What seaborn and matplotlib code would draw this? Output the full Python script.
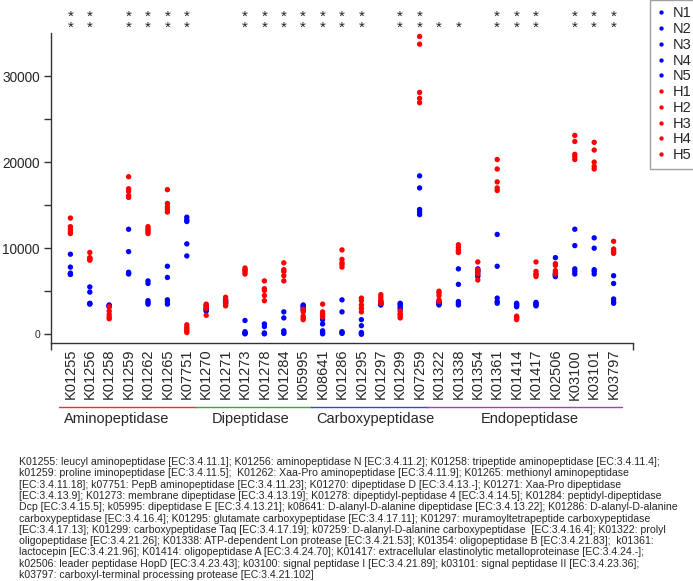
import matplotlib
matplotlib.use("Agg")
import matplotlib.pyplot as plt
import matplotlib.transforms as mtransforms
import pandas as pd
import seaborn as sns

# KEGG orthologs on the x axis
kegg = ["K01255", "K01256", "K01258", "K01259", "K01262", "K01265", "K07751",
        "K01270", "K01271", "K01273", "K01278", "K01284", "K05995",
        "K08641", "K01286", "K01295", "K01297", "K01299", "K07259",
        "K01322", "K01338", "K01354", "K01361", "K01414", "K01417", "K02506",
        "K03100", "K03101", "K03797"]

# five N samples per KO
n_vals = [
    [9300, 7800, 7100, 7000, 6950], [5500, 4900, 3600, 3550, 3500],
    [3400, 3350, 3300, 3250, 3200], [12200, 9600, 7200, 7100, 7000],
    [6200, 5900, 3900, 3700, 3500], [7900, 6600, 4000, 3800, 3500],
    [13600, 13300, 13100, 10500, 9100],
    [3200, 3000, 2900, 2800, 2700], [4000, 3900, 3800, 3700, 3600],
    [1600, 300, 150, 100, 50], [1200, 900, 150, 100, 50],
    [2600, 1900, 400, 200, 100], [3400, 3300, 3200, 3000, 2800],
    [1700, 1200, 400, 200, 50], [4000, 2600, 300, 200, 100],
    [1700, 1000, 200, 100, 0], [3800, 3700, 3600, 3500, 3400],
    [3600, 3500, 3300, 3100, 2900], [18400, 17000, 14500, 14200, 13900],
    [3800, 3700, 3600, 3500, 3400], [7600, 5800, 3800, 3600, 3400],
    [7600, 7400, 7200, 6900, 6700], [11600, 7900, 4200, 3800, 3600],
    [3600, 3500, 3400, 3300, 3200], [3700, 3600, 3500, 3400, 3300],
    [8900, 7000, 6900, 6800, 6700], [12200, 10300, 7600, 7300, 7000],
    [11200, 10000, 7500, 7300, 7000], [6800, 5900, 4100, 3800, 3600],
]

# five H samples per KO
h_vals = [
    [13500, 12500, 12200, 11900, 11700], [9500, 8900, 8800, 8700, 8600],
    [3200, 2700, 2300, 2000, 1800], [18300, 16900, 16600, 16100, 15900],
    [12500, 12300, 12100, 11900, 11700], [16800, 15200, 14800, 14500, 14200],
    [1100, 800, 600, 400, 200],
    [3500, 3400, 3300, 3000, 2200], [4300, 4000, 3600, 3400, 3300],
    [7700, 7500, 7400, 7200, 7000], [6200, 5300, 5100, 4500, 3900],
    [8300, 7500, 7300, 6800, 6200], [2900, 2600, 2100, 1900, 1700],
    [3500, 2600, 2400, 2200, 2000], [9800, 8700, 8300, 8100, 7800],
    [4200, 3900, 3400, 3000, 2600], [4600, 4300, 4000, 3800, 3600],
    [2700, 2400, 2300, 2100, 1900], [34600, 33700, 28100, 27400, 26900],
    [5000, 4800, 4500, 4000, 3800], [10400, 10100, 9800, 9600, 9500],
    [8400, 7500, 7300, 7000, 6300], [20300, 19200, 17700, 17000, 16700],
    [2100, 2000, 1900, 1800, 1700], [8400, 7300, 7000, 6900, 6700],
    [8200, 8000, 7400, 7200, 7000], [23100, 22400, 20900, 20600, 20300],
    [22300, 21400, 20000, 19500, 19200], [10800, 9900, 9700, 9500, 9400],
]

# number of significance stars above each KO
stars = [2, 2, 0, 2, 2, 2, 2, 0, 0, 2, 2, 2, 2, 2, 2, 2, 0, 2, 2,
         1, 1, 0, 2, 2, 2, 0, 2, 2, 2]

groups = ["Aminopeptidase", "Dipeptidase", "Carboxypeptidase", "Endopeptidase"]
group_sizes = [7, 6, 6, 10]
group_colors = ["#e8313a", "#35a84a", "#3348d6", "#b03ab8"]
label_shift = [-0.6, -0.2, 0.2, 0.2]

footnote = [
    "K01255: leucyl aminopeptidase [EC:3.4.11.1]; K01256: aminopeptidase N [EC:3.4.11.2]; K01258: tripeptide aminopeptidase [EC:3.4.11.4];",
    "k01259: proline iminopeptidase [EC:3.4.11.5];  K01262: Xaa-Pro aminopeptidase [EC:3.4.11.9]; K01265: methionyl aminopeptidase",
    "[EC:3.4.11.18]; k07751: PepB aminopeptidase [EC:3.4.11.23]; K01270: dipeptidase D [EC:3.4.13.-]; K01271: Xaa-Pro dipeptidase",
    "[EC:3.4.13.9]; K01273: membrane dipeptidase [EC:3.4.13.19]; K01278: dipeptidyl-peptidase 4 [EC:3.4.14.5]; K01284: peptidyl-dipeptidase",
    "Dcp [EC:3.4.15.5]; k05995: dipeptidase E [EC:3.4.13.21]; k08641: D-alanyl-D-alanine dipeptidase [EC:3.4.13.22]; K01286: D-alanyl-D-alanine",
    "carboxypeptidase [EC:3.4.16.4]; K01295: glutamate carboxypeptidase [EC:3.4.17.11]; K01297: muramoyltetrapeptide carboxypeptidase",
    "[EC:3.4.17.13]; K01299: carboxypeptidase Taq [EC:3.4.17.19]; k07259: D-alanyl-D-alanine carboxypeptidase  [EC:3.4.16.4]; K01322: prolyl",
    "oligopeptidase [EC:3.4.21.26]; K01338: ATP-dependent Lon protease [EC:3.4.21.53]; K01354: oligopeptidase B [EC:3.4.21.83];  k01361:",
    "lactocepin [EC:3.4.21.96]; K01414: oligopeptidase A [EC:3.4.24.70]; K01417: extracellular elastinolytic metalloproteinase [EC:3.4.24.-];",
    "k02506: leader peptidase HopD [EC:3.4.23.43]; k03100: signal peptidase I [EC:3.4.21.89]; k03101: signal peptidase II [EC:3.4.23.36];",
    "k03797: carboxyl-terminal processing protease [EC:3.4.21.102]",
]

# long table for seaborn
rows = []
for i, k in enumerate(kegg):
    for j in range(5):
        rows.append((i + 1, n_vals[i][j], "N%d" % (j + 1)))
    for j in range(5):
        rows.append((i + 1, h_vals[i][j], "H%d" % (j + 1)))
df = pd.DataFrame(rows, columns=["pos", "value", "sample"])
hue_order = ["N%d" % i for i in range(1, 6)] + ["H%d" % i for i in range(1, 6)]
palette = {s: ("#0000ff" if s.startswith("N") else "#ff0000") for s in hue_order}

sns.set_style("ticks")
plt.rcParams["font.family"] = ["Liberation Sans", "DejaVu Sans"]

fig = plt.figure(figsize=(6.93, 5.81), dpi=100)
ax = fig.add_axes([51 / 693, 1 - 343.3 / 581, 582 / 693, 310.3 / 581])

sns.scatterplot(data=df, x="pos", y="value", hue="sample", hue_order=hue_order,
                palette=palette, s=15, linewidth=0, ax=ax)

ax.set_xlim(0, 30)
ax.set_ylim(-1050, 35000)
ax.set_xlabel("")
ax.set_ylabel("")
ax.set_xticks(range(1, 30))
ax.set_xticklabels(kegg, rotation=90, fontsize=10.5)
ax.set_xticks(range(0, 31, 2), minor=True)
ax.tick_params(axis="x", which="major", length=0, pad=4)
ax.tick_params(axis="x", which="minor", length=5, width=1, color="#333333")
ax.set_yticks([0, 10000, 20000, 30000])
ax.set_yticks([5000, 15000, 25000], minor=True)
ax.tick_params(axis="y", which="both", length=5, width=1, color="#333333",
               labelsize=9.8, pad=3)
ax.get_yticklabels()[0].set_fontsize(7.5)
sns.despine(ax=ax)
for sp in ["left", "bottom"]:
    ax.spines[sp].set_color("#333333")
    ax.spines[sp].set_linewidth(1)

trans = mtransforms.blended_transform_factory(ax.transData, ax.transAxes)

# significance stars above the axes
for i, n in enumerate(stars):
    if n:
        ax.text(i + 1, 0.994, "\n".join(["*"] * n), transform=trans, ha="center",
                va="bottom", fontsize=11, linespacing=0.75, color="#222222")

# group underlines and names
start = 1
for name, size, col, shift in zip(groups, group_sizes, group_colors, label_shift):
    end = start + size - 1
    ax.plot([start - 0.6, end + 0.45], [-0.205, -0.205], color=col, lw=1,
            transform=trans, clip_on=False)
    ax.text((start + end) / 2 + shift, -0.245, name, transform=trans,
            ha="center", va="center", fontsize=10.5)
    start = end + 1

handles, labels = ax.get_legend_handles_labels()
leg = ax.legend(handles, labels, loc="upper left", bbox_to_anchor=(1.029, 1.107),
                frameon=True, fancybox=False, fontsize=10.5, handlelength=0.6,
                handletextpad=0.5, labelspacing=0.12, borderpad=0.45,
                markerscale=0.8, borderaxespad=0)
leg.get_frame().set_edgecolor("#888888")
leg.get_frame().set_linewidth(1)

y0 = 1 - 462 / 581
for i, line in enumerate(footnote):
    fig.text(19 / 693, y0 - i * 11.3 / 581, line, fontsize=7.6, va="center",
             ha="left", family=["Liberation Sans Narrow", "Liberation Sans"])

fig.savefig("out.png", dpi=100)
